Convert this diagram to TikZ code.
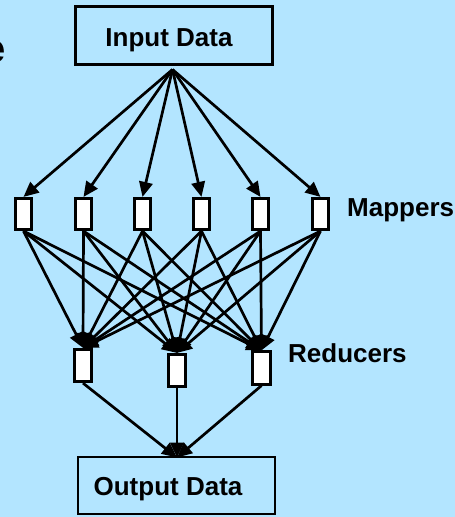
\documentclass[tikz,border=0pt]{standalone}
\usepackage{fontspec}
\setmainfont{Liberation Sans}
\usetikzlibrary{arrows.meta}
\definecolor{bg}{RGB}{179,229,255}
\begin{document}
\begin{tikzpicture}[x=1pt,y=-1pt,
  conn/.style={line width=2.7pt, -{Triangle[length=15pt,width=13.5pt]}},
  bigbox/.style={draw, line width=2.7pt, rectangle, minimum width=197pt, minimum height=58pt, inner sep=0pt},
  mapbox/.style={draw, line width=2.7pt, fill=white, rectangle, minimum width=16.5pt, minimum height=31.5pt, inner sep=0pt},
  redbox/.style={draw, line width=2.7pt, fill=white, rectangle, minimum width=17.5pt, minimum height=32.5pt, inner sep=0pt},
  lbl/.style={inner sep=0pt, font=\fontsize{26}{30}\selectfont\bfseries}]
\fill[bg] (0,0) rectangle (455,517);
\useasboundingbox (0,0) rectangle (455,517);

\node[inner sep=0pt, anchor=base east, font=\fontsize{40}{44}\selectfont\bfseries] (frag) at (5.5,62) {e};

\node[bigbox] (in) at (174,35.5) {};
\node[lbl, anchor=base] (intext) at (169,46.7) {Input Data};
\node[bigbox, minimum height=57pt] (out) at (176.5,485.5) {};
\node[lbl, anchor=base] (outtext) at (168,495.5) {Output Data};

\foreach \i/\x in {1/23.5,2/83.5,3/142.5,4/201.5,5/260.5,6/320.5}
  \node[mapbox] (m\i) at (\x,214) {};
\node[redbox] (r1) at (83,365.5) {};
\node[redbox] (r2) at (177,370.5) {};
\node[redbox] (r3) at (261.5,368) {};

\node[lbl, anchor=base west] (maptext) at (347,216.5) {Mappers};
\node[lbl, anchor=base west] (redtext) at (288,362.5) {Reducers};

\coordinate (src) at (172.5,69.5);
\coordinate (dst) at (177,457.5);

\foreach \i in {1,...,6}
  \draw[conn] (src) -- (m\i.north);
\foreach \i in {1,...,6}
  \foreach \j in {1,2,3}
    \draw[conn] (m\i.south) -- (r\j.north);
\foreach \j in {1,2,3}
  \draw[conn] (r\j.south) -- (dst);
\end{tikzpicture}
\end{document}
